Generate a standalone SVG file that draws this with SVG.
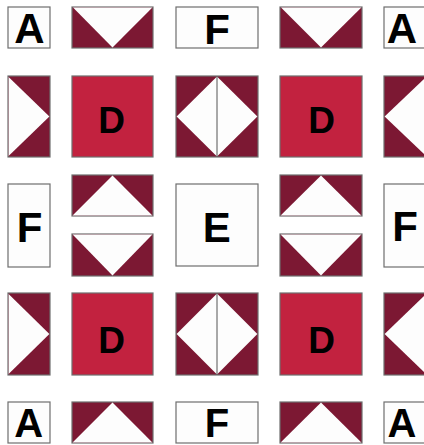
<svg xmlns="http://www.w3.org/2000/svg" width="424" height="445" viewBox="0 0 424 445">
<style>
.w{fill:#fdfdfd;stroke:#6e6e6e;stroke-width:1.2}
.m{fill:#7c1833;stroke:#6e6e6e;stroke-width:1.2}
.d{fill:#c2223f;stroke:#6e6e6e;stroke-width:1.2}
.t{fill:#fdfdfd}
.l{font-family:"Liberation Sans",Arial,sans-serif;font-weight:bold;font-size:42px;fill:#000;text-anchor:middle}
.ld{font-size:37px}
.lb{font-size:40px}
</style>
<rect width="424" height="445" fill="#ffffff"/>
<!-- Row 1 -->
<g id="a1"><rect class="w" x="8" y="7" width="42" height="41"/><text class="l" x="29.5" y="43">A</text></g>
<g id="g1"><rect class="m" x="72" y="7" width="81" height="41"/><polygon class="t" points="73,7.6 152.4,7.6 112.5,47.4"/></g>
<g id="f1"><rect class="w" x="176" y="7" width="82" height="41"/><text class="l" x="217" y="44">F</text></g>
<g id="g2"><rect class="m" x="280" y="7" width="82" height="41"/><polygon class="t" points="281,7.6 361.4,7.6 321,47.4"/></g>
<g id="a2"><rect class="w" x="384" y="7" width="44" height="41"/><text class="l" x="402" y="43">A</text></g>
<!-- Row 2 -->
<g id="h1"><rect class="m" x="8" y="76" width="42" height="81"/><polygon class="t" points="8.6,77 49.4,116.5 8.6,156"/></g>
<g id="d1"><rect class="d" x="72" y="76" width="81" height="81"/><text class="l ld" x="111.5" y="133">D</text></g>
<g id="q1"><rect class="m" x="176" y="76" width="82" height="81"/><polygon class="t" points="217,76.6 257.4,116.5 217,156.4 176.6,116.5"/><line x1="217" y1="76" x2="217" y2="157" stroke="#555" stroke-width="1"/></g>
<g id="d2"><rect class="d" x="280" y="76" width="82" height="81"/><text class="l ld" x="321.5" y="133">D</text></g>
<g id="h2"><rect class="m" x="384" y="76" width="44" height="81"/><polygon class="t" points="426,77 384.6,116.5 426,156"/></g>
<!-- Row 3 -->
<g id="f2"><rect class="w" x="8" y="184" width="42" height="83"/><text class="l" x="29.5" y="241.5">F</text></g>
<g id="g3"><rect class="m" x="72" y="175" width="81" height="41"/><polygon class="t" points="112.5,175.6 152.4,215.4 72.6,215.4"/></g>
<g id="g4"><rect class="m" x="72" y="234" width="81" height="42"/><polygon class="t" points="72.6,234.6 152.4,234.6 112.5,275.4"/></g>
<g id="e1"><rect class="w" x="176" y="184" width="82" height="82"/><text class="l" x="216.7" y="241.5">E</text></g>
<g id="g5"><rect class="m" x="280" y="175" width="82" height="41"/><polygon class="t" points="321,175.6 361.4,215.4 280.6,215.4"/></g>
<g id="g6"><rect class="m" x="280" y="234" width="82" height="42"/><polygon class="t" points="280.6,234.6 361.4,234.6 321,275.4"/></g>
<g id="f3"><rect class="w" x="384" y="184" width="44" height="83"/><text class="l" x="405" y="241">F</text></g>
<!-- Row 4 -->
<g id="h3"><rect class="m" x="8" y="293" width="42" height="82"/><polygon class="t" points="8.6,294 49.4,334 8.6,374"/></g>
<g id="d3"><rect class="d" x="72" y="293" width="81" height="82"/><text class="l ld" x="111.5" y="353">D</text></g>
<g id="q2"><rect class="m" x="176" y="293" width="82" height="82"/><polygon class="t" points="217,293.6 257.4,334 217,374.4 176.6,334"/><line x1="217" y1="293" x2="217" y2="375" stroke="#555" stroke-width="1"/></g>
<g id="d4"><rect class="d" x="280" y="293" width="82" height="82"/><text class="l ld" x="321.5" y="353">D</text></g>
<g id="h4"><rect class="m" x="384" y="293" width="44" height="82"/><polygon class="t" points="426,294 384.6,334 426,374"/></g>
<!-- Row 5 -->
<g id="a3"><rect class="w" x="8" y="402" width="42" height="41"/><text class="l lb" x="28.7" y="436.5">A</text></g>
<g id="g7"><rect class="m" x="72" y="402" width="81" height="41"/><polygon class="t" points="112.5,402.6 152.4,442.4 72.6,442.4"/></g>
<g id="f4"><rect class="w" x="176" y="402" width="82" height="41"/><text class="l lb" x="217" y="436.5">F</text></g>
<g id="g8"><rect class="m" x="280" y="402" width="82" height="41"/><polygon class="t" points="321,402.6 361.4,442.4 280.6,442.4"/></g>
<g id="a4"><rect class="w" x="384" y="402" width="44" height="41"/><text class="l lb" x="402" y="436.5">A</text></g>
<g id="connectors"></g>
</svg>
